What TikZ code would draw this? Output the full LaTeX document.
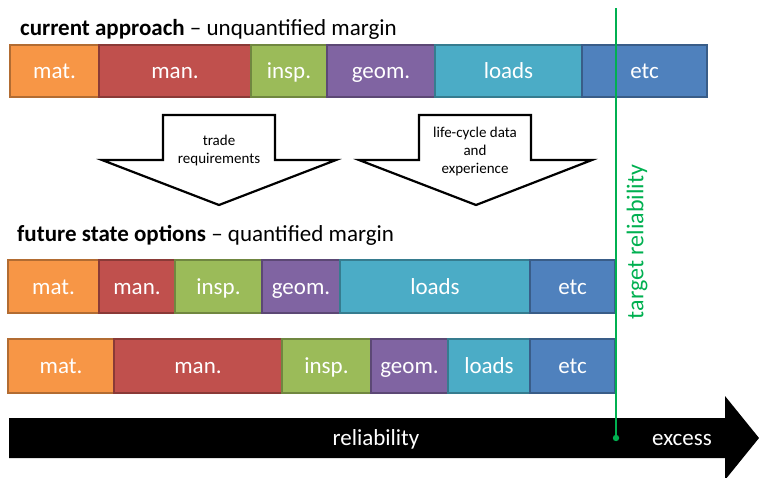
\documentclass[tikz,border=0pt]{standalone}
\usepackage{fontspec}
\setmainfont{Carlito}
\definecolor{cOrange}{HTML}{F79646}
\definecolor{cRed}{HTML}{C0504D}
\definecolor{cGreen}{HTML}{9BBB59}
\definecolor{cPurple}{HTML}{8064A2}
\definecolor{cAqua}{HTML}{4BACC6}
\definecolor{cBlue}{HTML}{4F81BD}
\definecolor{cTarget}{HTML}{00B050}
\newcommand\segbox[7]{%
  \node[segbox, fill=#6, draw=#6!72!black, minimum width={#3-#2}, minimum height=#5]
    (#1) at ({(#2+#3)/2},{#4+#5/2}) {#7};}
\tikzset{
  segbox/.style={rectangle, inner sep=0pt, line width=1.4pt, text=white,
    text height=17pt, text depth=2pt, font=\fontsize{23}{26}\selectfont},
  titletext/.style={anchor=base west, inner sep=0pt, font=\fontsize{23}{26}\selectfont},
  blockarrow/.style={draw=black, fill=white, line width=2.2pt, line join=miter},
  arrowtext/.style={align=center, inner sep=0pt, font=\fontsize{15}{18}\selectfont},
  axistext/.style={text=white, inner sep=0pt, text height=17pt, text depth=2pt,
    font=\fontsize{23}{26}\selectfont},
}
\begin{document}
\begin{tikzpicture}[x=1pt,y=-1pt]
\useasboundingbox (0,0) rectangle (759,477);
% titles
\node[titletext] (t1) at (20,35) {\textbf{current approach} – unquantified margin};
\node[titletext] (t2) at (17,241) {\textbf{future state options} – quantified margin};
% row A
\segbox{a1}{10}{99}{45}{52}{cOrange}{mat.}
\segbox{a2}{99}{251}{45}{52}{cRed}{man.}
\segbox{a3}{251}{327}{45}{52}{cGreen}{insp.}
\segbox{a4}{327}{435}{45}{52}{cPurple}{geom.}
\segbox{a5}{435}{582}{45}{52}{cAqua}{loads}
\segbox{a6}{582}{707}{45}{52}{cBlue}{etc}
% row B
\segbox{b1}{8}{99}{260}{53}{cOrange}{mat.}
\segbox{b2}{99}{175}{260}{53}{cRed}{man.}
\segbox{b3}{175}{262}{260}{53}{cGreen}{insp.}
\segbox{b4}{262}{340}{260}{53}{cPurple}{geom.}
\segbox{b5}{340}{530}{260}{53}{cAqua}{loads}
\segbox{b6}{530}{615}{260}{53}{cBlue}{etc}
% row C
\segbox{c1}{8}{114}{339}{54}{cOrange}{mat.}
\segbox{c2}{114}{282}{339}{54}{cRed}{man.}
\segbox{c3}{282}{371}{339}{54}{cGreen}{insp.}
\segbox{c4}{371}{448}{339}{54}{cPurple}{geom.}
\segbox{c5}{448}{530}{339}{54}{cAqua}{loads}
\segbox{c6}{530}{615}{339}{54}{cBlue}{etc}
% block arrows
\draw[blockarrow] (163,115) -- (275,115) -- (275,160) -- (336,160) -- (219,205)
  -- (102,160) -- (163,160) -- cycle;
\node[arrowtext] (ar1) at (219,150) {trade\\requirements};
\draw[blockarrow] (419,115) -- (531,115) -- (531,160) -- (592,160) -- (476,205)
  -- (359,160) -- (419,160) -- cycle;
\node[arrowtext] (ar2) at (475,151) {life-cycle data\\and\\experience};
% reliability axis
\fill[black] (9,418) -- (725,418) -- (725,396) -- (759,438) -- (725,480)
  -- (725,458) -- (9,458) -- cycle;
\node[axistext] (rel) at (376,438) {reliability};
\node[axistext] (exc) at (682,438) {excess};
% target line
\coordinate (ttop) at (616,8);
\coordinate (tbot) at (616,438);
\draw[cTarget, line width=1.8pt] (ttop) -- (tbot);
\fill[cTarget] (tbot) circle (3.2);
\node[rotate=90, text=cTarget, inner sep=0pt, font=\fontsize{24}{26}\selectfont]
  (tr) at (637,242) {target reliability};
\end{tikzpicture}
\end{document}
